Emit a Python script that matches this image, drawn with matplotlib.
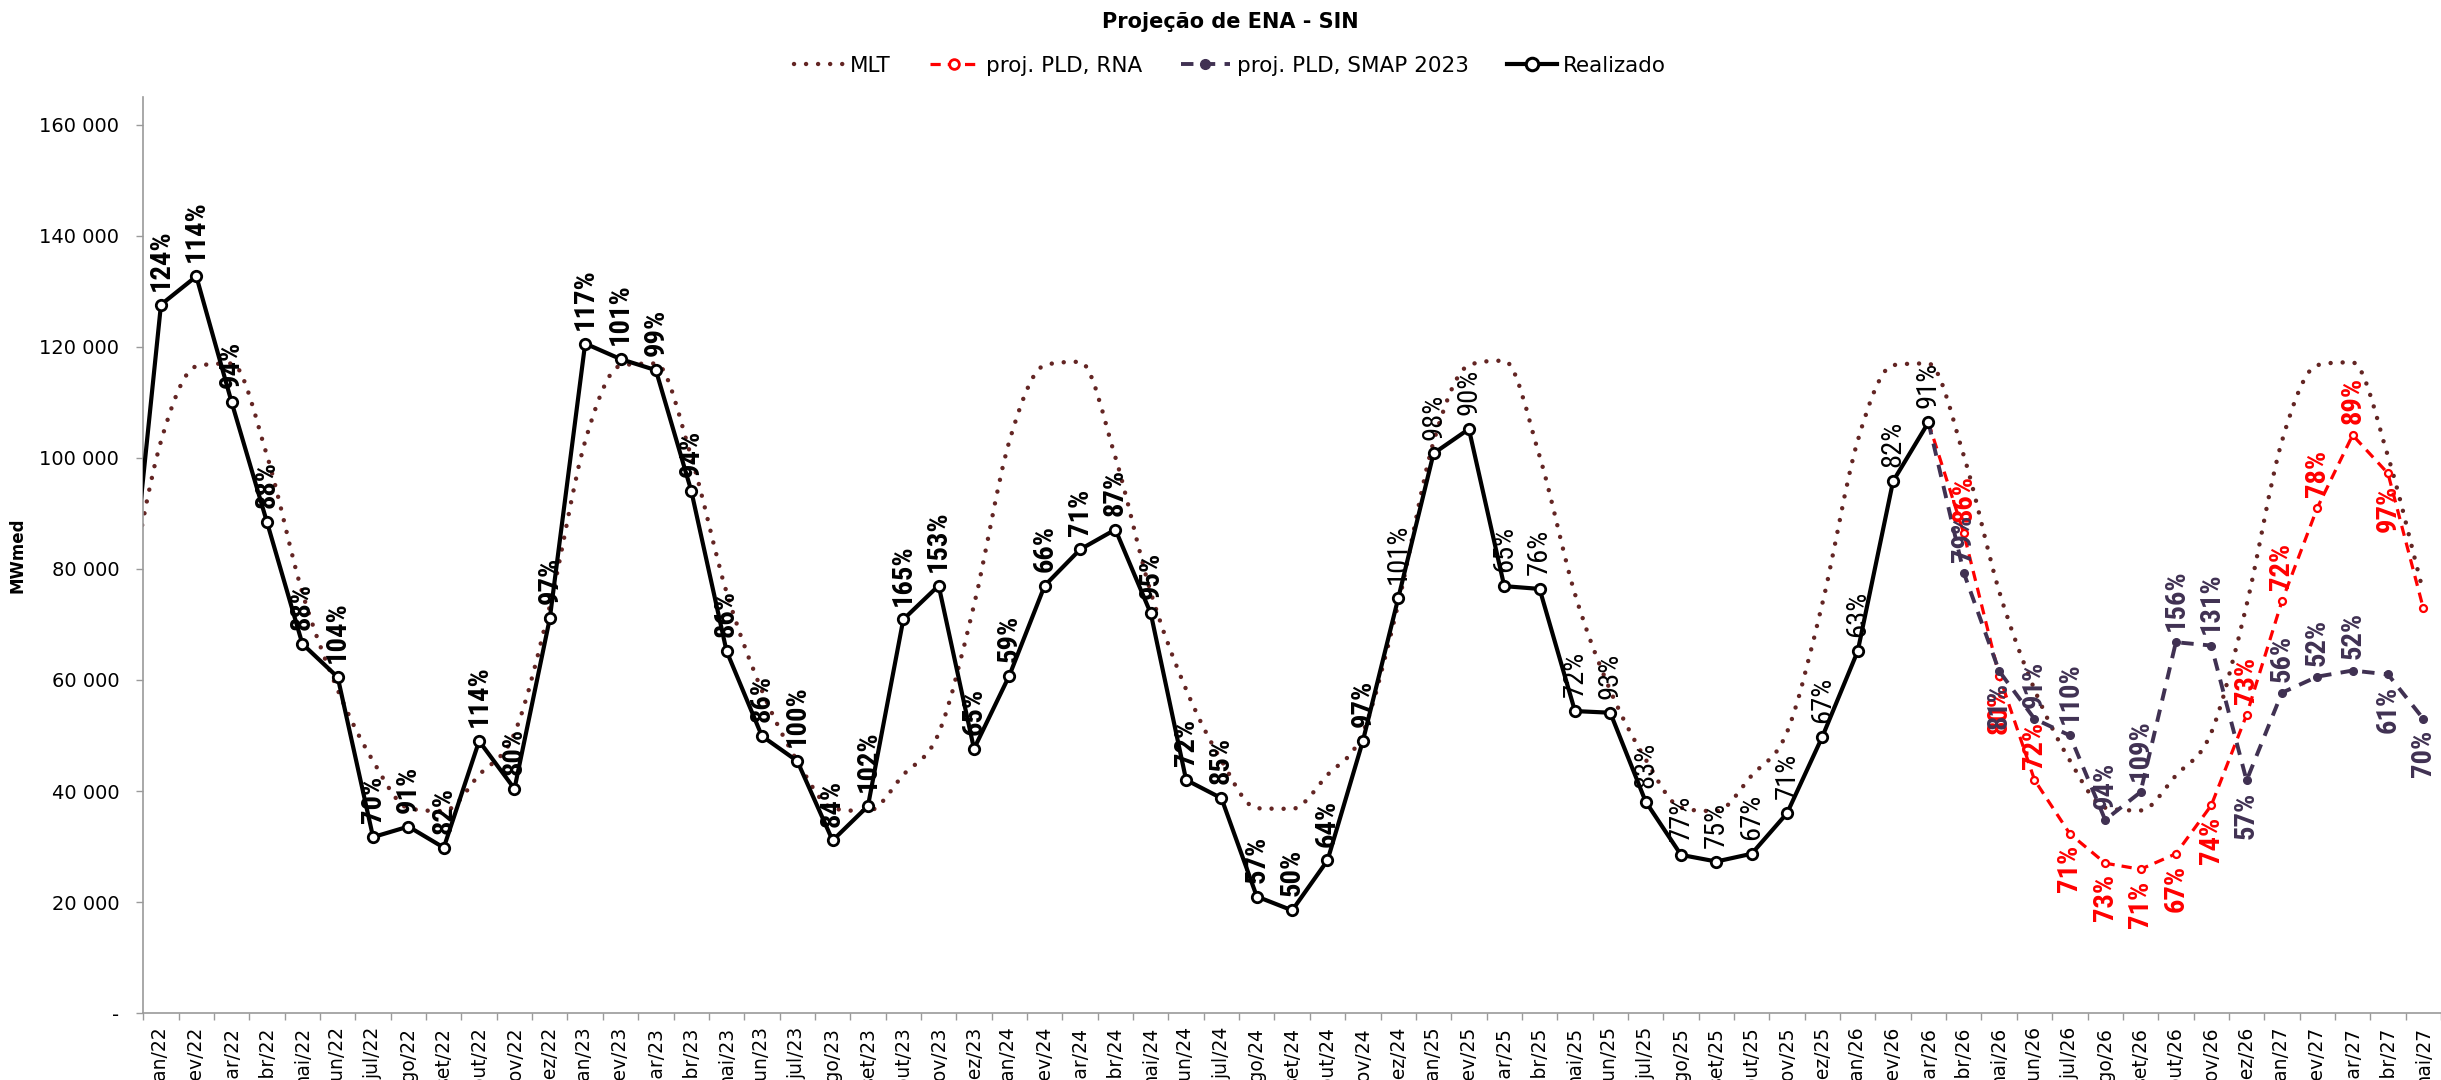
import numpy as np
import matplotlib
matplotlib.use('Agg')
import matplotlib.pyplot as plt
from matplotlib import font_manager
from matplotlib.path import Path
from matplotlib.patches import PathPatch
from matplotlib.lines import Line2D
from matplotlib.ticker import FuncFormatter

# categories (jan/22 .. mai/27), the series start one month earlier (dez/21) and get clipped
meses = ['jan', 'fev', 'mar', 'abr', 'mai', 'jun', 'jul', 'ago', 'set', 'out', 'nov', 'dez']
anos = ['22', '23', '24', '25', '26', '27']
categorias = [m + '/' + a for a in anos for m in meses][:65]

# MLT, dez/21 .. mai/27
mlt = [73000,
       103000, 116500, 117000, 100400, 75700, 58200, 45400, 36900, 36400, 42900, 50400, 73300,
       103000, 116600, 117000, 100200, 75800, 58100, 45400, 36900, 36400, 42900, 50400, 73500,
       103000, 116700, 117300, 100100, 75800, 58300, 45500, 36900, 36800, 42900, 50500, 73700,
       102900, 116700, 117500, 100300, 75500, 58100, 45700, 37000, 36400, 42800, 50600, 73800,
       103100, 116700, 117000, 100400, 76000, 58300, 45500, 37000, 36500, 42800, 50500, 73500,
       103000, 116700, 117200, 100300, 75800]

# Realizado, dez/21 .. mar/26
realizado = [65600,
             127600, 132700, 110000, 88400, 66500, 60500, 31700, 33600, 29800, 49000, 40400, 71100,
             120600, 117800, 115800, 94100, 65200, 49900, 45400, 31100, 37300, 70900, 77000, 47600,
             60800, 77000, 83500, 87100, 72000, 42000, 38700, 21000, 18500, 27500, 49000, 74700,
             100800, 105200, 76900, 76400, 54400, 54100, 38100, 28500, 27300, 28700, 36000, 49800,
             65200, 95800, 106400]
pct_realizado = ['', '124%', '114%', '94%', '88%', '88%', '104%', '70%', '91%', '82%', '114%', '80%', '97%',
                 '117%', '101%', '99%', '94%', '86%', '86%', '100%', '84%', '102%', '165%', '153%', '65%',
                 '59%', '66%', '71%', '87%', '95%', '72%', '85%', '57%', '50%', '64%', '97%', '101%',
                 '98%', '90%', '65%', '76%', '72%', '93%', '83%', '77%', '75%', '67%', '71%', '67%',
                 '63%', '82%', '91%']

# projections, mar/26 .. mai/27
proj_rna = [106400, 86400, 60800, 42000, 32300, 27000, 25900, 28700, 37400, 53700,
            74200, 91000, 104100, 97200, 72900]
pct_rna = ['', '86%', '80%', '72%', '71%', '73%', '71%', '67%', '74%', '73%',
           '72%', '78%', '89%', '97%', '']
lado_rna = 'bababbbbbaaaabb'

proj_smap = [106400, 79300, 61600, 53000, 50000, 34800, 39800, 66800, 66200, 41900,
             57700, 60600, 61700, 61000, 53000]
pct_smap = ['', '79%', '81%', '91%', '110%', '94%', '109%', '156%', '131%', '57%',
            '56%', '52%', '52%', '61%', '70%']
lado_smap = 'aabaaaaaabaaabb'

c_mlt = '#632523'
c_rna = '#FF0000'
c_smap = '#403152'
c_axis = '#9A9A9A'

# narrow font for the rotated data labels, whatever is installed
nomes = {f.name for f in font_manager.fontManager.ttflist}
lbl_font, lbl_size = 'DejaVu Sans', 15.5
for nome, tam in [('Liberation Sans Narrow', 21), ('Roboto Condensed', 20.5), ('Roboto', 18.4)]:
    if nome in nomes:
        lbl_font, lbl_size = nome, tam
        break

fig = plt.figure(figsize=(24.41, 10.8), dpi=100)
ax = fig.add_axes([143.3 / 2441, 1 - 1013.1 / 1080, (2441 - 143.3) / 2441, (1013.1 - 97) / 1080])

x_mlt = np.arange(len(mlt)) - 1
x_real = np.arange(len(realizado)) - 1
x_proj = np.arange(len(proj_rna)) + 50

# MLT as a smooth curve: cubic bezier segments with monotone tangents (no overshoot)
y = np.array(mlt, dtype=float)
n = len(y)
tang = np.zeros(n)
tang[0] = y[1] - y[0]
tang[-1] = y[-1] - y[-2]
for i in range(1, n - 1):
    d0, d1 = y[i] - y[i - 1], y[i + 1] - y[i]
    if d0 * d1 > 0:
        tang[i] = np.sign(d0) * min((abs(d0) + abs(d1)) / 2, 3 * min(abs(d0), abs(d1)))
verts = [(x_mlt[0], y[0])]
codes = [Path.MOVETO]
for i in range(n - 1):
    verts += [(x_mlt[i] + 1 / 3, y[i] + tang[i] / 3),
              (x_mlt[i + 1] - 1 / 3, y[i + 1] - tang[i + 1] / 3),
              (x_mlt[i + 1], y[i + 1])]
    codes += [Path.CURVE4] * 3
dots = (0, (0.01, 2.7))
curva = PathPatch(Path(verts, codes), fill=False, edgecolor=c_mlt, lw=3.2,
                  linestyle=dots, zorder=2)
curva.set_capstyle('round')
ax.add_patch(curva)

ax.plot(x_proj, proj_rna, color=c_rna, lw=2.3, linestyle=(0, (3.2, 2.2)),
        marker='o', ms=5, mfc='white', mec=c_rna, mew=1.6, zorder=3)
ax.plot(x_proj, proj_smap, color=c_smap, lw=2.8, linestyle=(0, (3.2, 2.4)),
        marker='o', ms=5.5, mfc=c_smap, mec=c_smap, zorder=3)
ax.plot(x_real, realizado, color='black', lw=3, marker='o', ms=7.5,
        mfc='white', mec='black', mew=2, zorder=4)


def rotulos(xs, ys, textos, lados, cor, peso, off):
    for i, (x, yy, t, s) in enumerate(zip(xs, ys, textos, lados)):
        if not t:
            continue
        w = peso(i) if callable(peso) else peso
        ax.annotate(t, (x, yy), xytext=(0, off if s == 'a' else -off), textcoords='offset points',
                    rotation=90, ha='center', va='bottom' if s == 'a' else 'top',
                    color=cor, fontsize=lbl_size, fontweight=w, family=lbl_font, zorder=5)


rotulos(x_real, realizado, pct_realizado, 'a' * len(realizado), 'black',
        lambda i: 'bold' if i <= 35 else 'normal', 10)
rotulos(x_proj, proj_rna, pct_rna, lado_rna, c_rna, 'bold', 8)
rotulos(x_proj, proj_smap, pct_smap, lado_smap, c_smap, 'bold', 8)

ax.set_xlim(-0.5, 64.24)
ax.set_ylim(0, 165000)
ax.set_yticks(np.arange(0, 160001, 20000))
ax.yaxis.set_major_formatter(FuncFormatter(lambda v, p: '-' if v == 0 else '{:,.0f}'.format(v).replace(',', ' ')))
ax.set_xticks(np.arange(len(categorias)))
ax.set_xticklabels(categorias, rotation=90, va='top')
ax.set_xticks(np.arange(-0.5, 65, 1), minor=True)
ax.tick_params(axis='x', which='major', length=0, pad=10, labelsize=13.5)
ax.tick_params(axis='x', which='minor', length=5, width=1, color=c_axis, direction='out')
ax.tick_params(axis='y', length=5.3, width=1, color=c_axis, pad=12, labelsize=14)
for s in ['top', 'right']:
    ax.spines[s].set_visible(False)
for s in ['left', 'bottom']:
    ax.spines[s].set_color(c_axis)
    ax.spines[s].set_linewidth(1.2)

fig.text(0.504, 1 - 22 / 1080, 'Projeção de ENA - SIN', ha='center', va='center',
         fontsize=15, fontweight='bold')
fig.text(17 / 2441, 1 - 555 / 1080, 'MWmed', rotation=90, ha='center', va='center',
         fontsize=12, fontweight='bold')

handles = [Line2D([], [], color=c_mlt, lw=3.2, linestyle=dots, dash_capstyle='round'),
           Line2D([], [], color=c_rna, lw=2.3, linestyle=(0, (3.2, 2.2)), marker='o', ms=7,
                  mfc='white', mec=c_rna, mew=2),
           Line2D([], [], color=c_smap, lw=2.8, linestyle=(0, (3.2, 2.4)), marker='o', ms=7,
                  mfc=c_smap, mec=c_smap),
           Line2D([], [], color='black', lw=3, marker='o', ms=9, mfc='white', mec='black', mew=2.2)]
fig.legend(handles, ['MLT', 'proj. PLD, RNA', 'proj. PLD, SMAP 2023', 'Realizado'],
           loc='center', bbox_to_anchor=(0.504, 1 - 66 / 1080), ncol=4, frameon=False,
           fontsize=15.5, handlelength=2.3, handletextpad=0.3, columnspacing=1.8)

fig.savefig('out.png', dpi=100)
